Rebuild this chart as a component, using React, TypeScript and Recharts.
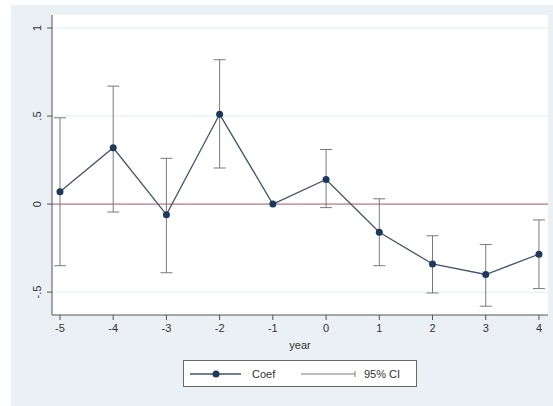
import {
  ComposedChart,
  Line,
  ErrorBar,
  XAxis,
  YAxis,
  CartesianGrid,
  ReferenceLine,
} from 'recharts';

const years = [-5, -4, -3, -2, -1, 0, 1, 2, 3, 4];
const coef = [0.07, 0.32, -0.06, 0.51, 0, 0.14, -0.16, -0.34, -0.4, -0.285];
const ciLow = [-0.35, -0.045, -0.39, 0.205, null, -0.02, -0.35, -0.505, -0.58, -0.48];
const ciHigh = [0.49, 0.67, 0.26, 0.82, null, 0.31, 0.03, -0.18, -0.23, -0.09];
const yTicks = [-0.5, 0, 0.5, 1];
const yTickLabels = ['-.5', '0', '.5', '1'];

const data = years.map((year, i) => ({
  year,
  coef: coef[i],
  err:
    ciLow[i] == null || ciHigh[i] == null
      ? null
      : [coef[i] - (ciLow[i] as number), (ciHigh[i] as number) - coef[i]],
}));

const FONT = '"Liberation Sans", Arial, sans-serif';
const LINE = '#44546a';
const DOT = '#1c3a5e';
const CI = '#7a7a7a';

const YTick = (props: any) => {
  const { x, y, payload } = props;
  const idx = yTicks.indexOf(payload.value);
  const bx = x - 4;
  return (
    <text
      x={bx}
      y={y}
      transform={`rotate(-90 ${bx} ${y})`}
      textAnchor="middle"
      fontSize={11}
      fontFamily={FONT}
      fill="#333"
    >
      {idx >= 0 ? yTickLabels[idx] : payload.value}
    </text>
  );
};

const XTick = (props: any) => {
  const { x, y, payload } = props;
  return (
    <text x={x} y={y + 10} textAnchor="middle" fontSize={11} fontFamily={FONT} fill="#333">
      {payload.value}
    </text>
  );
};

const LegendBox = () => (
  <div
    style={{
      position: 'absolute',
      left: 183,
      top: 360,
      width: 232,
      height: 25,
      background: '#fff',
      border: '1px solid #666',
    }}
  >
    <svg width={232} height={25} style={{ display: 'block' }}>
      <line x1={6} y1={13} x2={57} y2={13} stroke={LINE} strokeWidth={1.3} />
      <circle cx={32} cy={13} r={3.5} fill={DOT} />
      <text x={68} y={17} fontSize={11} fontFamily={FONT} fill="#333">
        Coef
      </text>
      <line x1={117} y1={13} x2={171} y2={13} stroke={CI} strokeWidth={1} />
      <line x1={171} y1={10} x2={171} y2={16} stroke={CI} strokeWidth={1} />
      <text x={180} y={17} fontSize={11} fontFamily={FONT} fill="#333">
        95% CI
      </text>
    </svg>
  </div>
);

export default function App() {
  return (
    <div style={{ position: 'absolute', left: 0, top: 0, width: 553, height: 406, background: '#fff' }}>
      <div
        style={{
          position: 'absolute',
          left: 11,
          top: 5,
          width: 542,
          height: 401,
          background: '#eaf0f3',
        }}
      />
      <div style={{ position: 'absolute', left: 0, top: 0 }}>
        <ComposedChart
          width={553}
          height={406}
          data={data}
          margin={{ top: 15, right: 5, bottom: 51, left: 11 }}
        >
          <CartesianGrid
            horizontal
            vertical={false}
            fill="#fff"
            stroke="#e6ecef"
            horizontalValues={yTicks}
          />
          <XAxis
            dataKey="year"
            type="number"
            domain={[-5.15, 4.17]}
            ticks={years}
            interval={0}
            height={40}
            tickSize={5}
            tick={<XTick />}
            stroke="#555"
            label={{
              value: 'year',
              position: 'insideBottom',
              offset: 6,
              fontSize: 11,
              fontFamily: FONT,
              fill: '#333',
            }}
          />
          <YAxis
            type="number"
            domain={[-0.63, 1.074]}
            ticks={yTicks}
            width={41}
            tickSize={5}
            tickMargin={2}
            tick={<YTick />}
            stroke="#555"
          />
          <ReferenceLine y={0} stroke="#b2606c" strokeWidth={1} />
          <Line
            dataKey="coef"
            stroke={LINE}
            strokeWidth={1.3}
            dot={{ r: 3.5, fill: DOT, stroke: DOT, strokeWidth: 0 }}
            activeDot={false}
            isAnimationActive={false}
          >
            <ErrorBar
              dataKey="err"
              direction="y"
              width={6}
              stroke={CI}
              strokeWidth={1}
              isAnimationActive={false}
            />
          </Line>
        </ComposedChart>
      </div>
      <LegendBox />
    </div>
  );
}
